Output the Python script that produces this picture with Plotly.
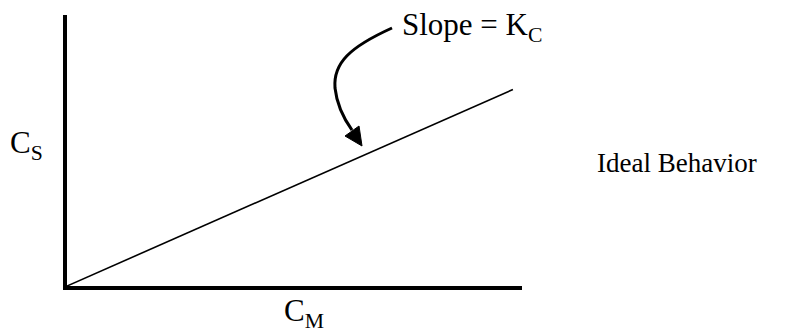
import plotly.graph_objects as go

# concentration in mobile phase vs stationary phase (ideal, linear)
c_m = [0, 9.8]
c_s = [0, 7.25]
x_range = [0, 10]
y_range = [0, 10]

x_label = "C<sub>M</sub>"
y_label = "C<sub>S</sub>"
slope_label = "Slope = K<sub>C</sub>"
side_label = "Ideal Behavior"

W, H = 786, 329
OFF = 8  # default body margin of the page
L, R, T, B = 59, 272, 7, 51
FAMILY = "Liberation Serif, Times New Roman, serif"


# screen pixel -> paper coordinates (for labels and the curved arrow)
def px(x, y):
    x, y = x - OFF, y - OFF
    return (x - L) / (W - L - R), (H - B - y) / (H - T - B)


def path(points, close=False):
    cmds = []
    for cmd, pts in points:
        coords = " ".join("%.4f,%.4f" % px(*p) for p in pts)
        cmds.append(cmd + " " + coords)
    s = " ".join(cmds)
    return s + (" Z" if close else "")


fig = go.Figure()
fig.add_trace(go.Scatter(x=c_m, y=c_s, mode="lines",
                         line=dict(color="black", width=1.6),
                         showlegend=False, hoverinfo="skip"))

# curved arrow pointing at the line
fig.add_shape(type="path", xref="paper", yref="paper",
              path=path([("M", [(392, 28)]),
                         ("C", [(350, 47), (333, 63), (335, 88)]),
                         ("C", [(337, 106), (344, 119), (352, 130)])]),
              line=dict(color="black", width=3))
fig.add_shape(type="path", xref="paper", yref="paper",
              path=path([("M", [(362, 146)]), ("L", [(345, 136)]), ("L", [(359, 126)])], close=True),
              fillcolor="black", line=dict(color="black", width=1))

labels = [
    (y_label, 8, 145, 31),
    (slope_label, 400, 27, 31),
    (side_label, 595, 163, 27),
    (x_label, 282, 313, 31),
]
for text, x, y, size in labels:
    xp, yp = px(x, y)
    fig.add_annotation(text=text, x=xp, y=yp, xref="paper", yref="paper",
                       xanchor="left", yanchor="middle", showarrow=False,
                       font=dict(family=FAMILY, size=size, color="black"))

axis = dict(showline=True, linewidth=4, linecolor="black", showgrid=False,
            zeroline=False, showticklabels=False, ticks="")
fig.update_xaxes(range=x_range, **axis)
fig.update_yaxes(range=y_range, **axis)

fig.update_layout(width=W, height=H, margin=dict(l=L, r=R, t=T, b=B),
                  plot_bgcolor="white", paper_bgcolor="white")

fig.write_html("out.html")
